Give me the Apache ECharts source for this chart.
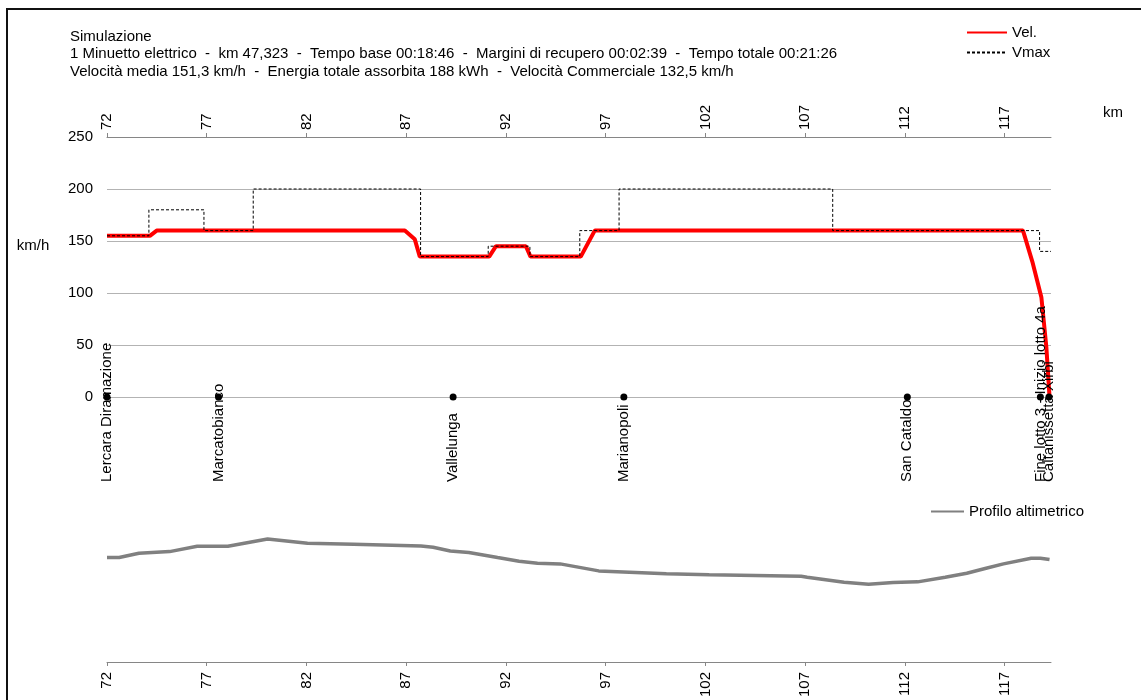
<!DOCTYPE html>
<html><head><meta charset="utf-8">
<script src="https://cdn.jsdelivr.net/npm/echarts@6/dist/echarts.min.js"></script>
<style>html,body{margin:0;padding:0;background:#fff}#c{width:1141px;height:700px}</style>
</head><body><div id="c"></div>
<script>
// ---- data ----
const kmTicks = [72, 77, 82, 87, 92, 97, 102, 107, 112, 117];
const kmStart = 72;
const kmEnd = 119.323;
const titleLines = [
  'Simulazione',
  '1 Minuetto elettrico  -  km 47,323  -  Tempo base 00:18:46  -  Margini di recupero 00:02:39  -  Tempo totale 00:21:26',
  'Velocità media 151,3 km/h  -  Energia totale assorbita 188 kWh  -  Velocità Commerciale 132,5 km/h'
];
const velKm    = [72, 74.15, 74.49, 86.93, 87.43, 87.68, 91.16, 91.5, 93.0, 93.23, 95.75, 96.45, 117.92, 118.39, 118.84, 119.09, 119.25];
const velSpeed = [155, 155, 160, 160, 151.6, 135, 135, 145, 145, 135, 135, 160, 160, 130, 96, 48, 0];
const vmaxKm    = [72, 74.1, 76.86, 79.33, 87.72, 91.11, 93.2, 95.7, 97.67, 108.38, 118.75, 119.323];
const vmaxSpeed = [155, 180, 160, 200, 135, 145, 135, 160, 200, 160, 140, 140];
const stationNames = ['Lercara Diramazione', 'Marcatobianco', 'Vallelunga', 'Marianopoli', 'San Cataldo', 'Fine lotto 3 - Inizio lotto 4a', 'Caltanissetta Xirbi'];
const stationKm = [72.0, 77.59, 89.35, 97.91, 112.12, 118.79, 119.22];
const profKm  = [72.0, 72.61, 73.6, 75.14, 76.52, 78.06, 80.05, 82.05, 84.36, 87.74, 88.35, 89.21, 90.14, 91.58, 92.66, 93.58, 94.72, 96.65, 98.19, 100.04, 102.19, 106.8, 107.1, 108.95, 110.18, 111.41, 112.64, 114.02, 115.1, 116.02, 116.94, 118.33, 118.79, 119.25];
const profAlt = [514, 514, 527, 532, 548, 548, 570, 557, 554, 549, 545, 534, 529, 514, 503, 497, 495, 474, 470, 465, 462, 458, 455, 440, 434, 439, 441, 455, 467, 481, 495, 512, 512, 508];

const zip = (a, b) => a.map((v, i) => [v, b[i]]);
const FONT = 'Liberation Sans, Arial, sans-serif';
const chart = echarts.init(document.getElementById('c'), null, {renderer: 'canvas'});

const xAxisCommon = {
  type: 'value', min: kmStart, max: kmEnd,
  axisLine: {onZero: false, lineStyle: {color: '#868686', width: 1}},
  axisTick: {show: true, length: 4, customValues: kmTicks, lineStyle: {color: '#868686'}},
  axisLabel: {rotate: 90, customValues: kmTicks, color: '#000', fontSize: 15, fontFamily: FONT},
  splitLine: {show: false}
};

chart.setOption({
  animation: false,
  textStyle: {fontFamily: FONT},
  graphic: [{
    type: 'rect', shape: {x: 7, y: 9, width: 1170, height: 730},
    style: {fill: 'none', stroke: '#111', lineWidth: 2}, silent: true, z: -1
  }],
  title: {
    text: titleLines.join('\n'), left: 70, top: 28, padding: 0,
    textStyle: {fontSize: 15, fontWeight: 'normal', color: '#000', lineHeight: 17.5, fontFamily: FONT}
  },
  legend: [{
    data: ['Vel.', 'Vmax'], orient: 'vertical', left: 966, top: 25, padding: 0,
    itemWidth: 40, itemHeight: 14, itemGap: 5,
    itemStyle: {opacity: 0},
    textStyle: {fontSize: 15, color: '#000', fontFamily: FONT}
  }, {
    data: ['Profilo altimetrico'], left: 930, top: 504, padding: 0,
    itemWidth: 33, itemHeight: 14,
    itemStyle: {opacity: 0},
    textStyle: {fontSize: 15, color: '#000', fontFamily: FONT}
  }],
  grid: [
    {left: 107, right: 90, top: 137, height: 260},
    {left: 107, right: 90, top: 462.5, height: 200}
  ],
  xAxis: [
    Object.assign({}, xAxisCommon, {
      gridIndex: 0, position: 'top',
      axisLabel: Object.assign({}, xAxisCommon.axisLabel, {margin: 7, rotate: -90}),
      name: 'km', nameLocation: 'end', nameGap: 52,
      nameTextStyle: {fontSize: 15, color: '#000', fontFamily: FONT, verticalAlign: 'bottom', padding: [0, 0, 17, 0]}
    }),
    Object.assign({}, xAxisCommon, {
      gridIndex: 1, position: 'bottom',
      axisLabel: Object.assign({}, xAxisCommon.axisLabel, {margin: 10})
    })
  ],
  yAxis: [{
    gridIndex: 0, type: 'value', min: 0, max: 250, interval: 50,
    axisLine: {show: false}, axisTick: {show: false},
    axisLabel: {color: '#000', fontSize: 15, margin: 14, fontFamily: FONT},
    splitLine: {lineStyle: {color: '#b3b3b3', width: 1}},
    name: 'km/h', nameLocation: 'middle', nameRotate: 0, nameGap: 74,
    nameTextStyle: {fontSize: 15, color: '#000', fontFamily: FONT, align: 'center', verticalAlign: 'bottom', padding: [0, 0, 14, 0]}
  }, {
    gridIndex: 1, type: 'value', min: 200, max: 800, show: false
  }],
  series: [{
    name: 'Vel.', type: 'line', xAxisIndex: 0, yAxisIndex: 0,
    data: zip(velKm, velSpeed), symbol: 'none', z: 3,
    lineStyle: {color: '#ff0000', width: 4}, itemStyle: {color: '#ff0000'}
  }, {
    name: 'Vmax', type: 'line', xAxisIndex: 0, yAxisIndex: 0, step: 'end',
    data: zip(vmaxKm, vmaxSpeed), symbol: 'none', z: 4,
    lineStyle: {color: '#000', width: 1, type: [3, 2]}, itemStyle: {color: '#000'}
  }, {
    name: 'Stazioni', type: 'scatter', xAxisIndex: 0, yAxisIndex: 0,
    data: stationKm.map((k, i) => ({value: [k, 0], name: stationNames[i]})),
    symbol: 'circle', symbolSize: 7, z: 5, clip: false,
    itemStyle: {color: '#000', opacity: 1},
    label: {
      show: true, formatter: p => p.name, position: [3.5, 88.5], rotate: 90,
      align: 'left', verticalAlign: 'middle', color: '#000', fontSize: 15, fontFamily: FONT
    }
  }, {
    name: 'Profilo altimetrico', type: 'line', xAxisIndex: 1, yAxisIndex: 1,
    data: zip(profKm, profAlt), symbol: 'none',
    lineStyle: {color: '#808080', width: 3.5}, itemStyle: {color: '#808080'}
  }]
});
</script></body></html>
